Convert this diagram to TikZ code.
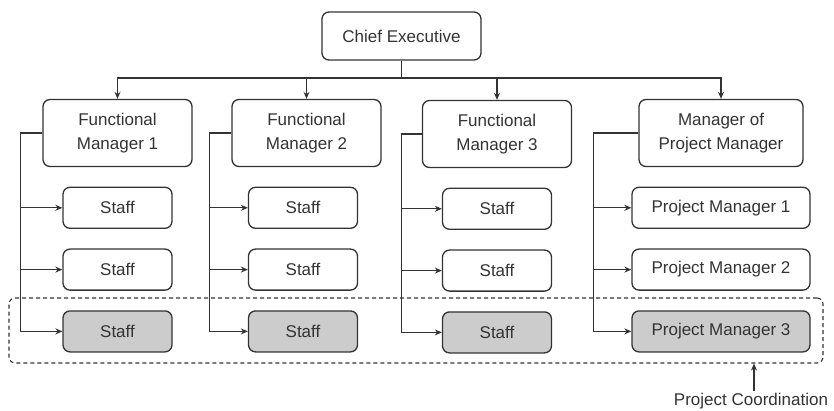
\documentclass[tikz,border=0pt]{standalone}
\usepackage{fontspec}
\setmainfont{Liberation Sans}
\usetikzlibrary{positioning, arrows.meta}

\begin{document}
\begin{tikzpicture}[x=1pt, y=-1pt, node distance=19.5pt,
    every node/.style={font=\fontsize{17}{24}\selectfont, text=black!80},
    box/.style={rectangle, draw=black!80, line width=1.3pt, rounded corners=7pt, align=center},
    head/.style={box, minimum width=149pt, minimum height=67pt},
    staff/.style={box, minimum width=109pt, minimum height=41pt},
    shared/.style={fill=gray!40},
    link/.style={draw=black!80, line width=1.2pt, -{Stealth[length=7pt, width=6pt]}},
    wire/.style={draw=black!80, line width=1.2pt}]
    \useasboundingbox (0,0) rectangle (834,411);

    % project coordination band
    \node[draw=black!80, line width=1.1pt, dash pattern=on 4pt off 3pt, rounded corners=6pt,
          minimum width=814pt, minimum height=65pt] (team) at (416,330.5) {};

    \node[box, minimum width=159pt, minimum height=48pt] (chief) at (401.5,36) {Chief Executive};
    \node[head] (fm1) at (117.5,133) {Functional\\Manager 1};
    \node[head] (fm2) at (306.5,133) {Functional\\Manager 2};
    \node[head] (fm3) at (497,134) {Functional\\Manager 3};
    \node[head, minimum width=164pt] (mpm) at (721,133) {Manager of\\Project Manager};

    \node[staff, below=of fm1] (s11) {Staff};
    \node[staff, below=of s11] (s12) {Staff};
    \node[staff, shared, below=of s12] (s13) {Staff};
    \node[staff, below=of fm2, xshift=-3.5pt] (s21) {Staff};
    \node[staff, below=of s21] (s22) {Staff};
    \node[staff, shared, below=of s22] (s23) {Staff};
    \node[staff, below=of fm3] (s31) {Staff};
    \node[staff, below=of s31] (s32) {Staff};
    \node[staff, shared, below=of s32] (s33) {Staff};
    \node[staff, minimum width=178pt, below=of mpm] (pm1) {Project Manager 1};
    \node[staff, minimum width=178pt, below=of pm1] (pm2) {Project Manager 2};
    \node[staff, minimum width=178pt, shared, below=of pm2] (pm3) {Project Manager 3};

    \node[inner sep=2pt] (pc) at (751,401) {Project Coordination};

    % chief executive down to the managers
    \coordinate (bus) at (401.5,78);
    \draw[wire] (chief) -- (bus);
    \draw[link] (bus) -| (fm1);
    \draw[link] (bus) -| (fm2);
    \draw[link] (bus) -| (fm3);
    \draw[link] (bus) -| (mpm);

    % each manager to his own people
    \coordinate[left=22pt of fm1.west] (b1);
    \coordinate[left=22pt of fm2.west] (b2);
    \coordinate[left=20pt of fm3.west] (b3);
    \coordinate[left=45pt of mpm.west] (b4);
    \draw[link] (fm1.west) -- (b1) |- (s13);
    \draw[link] (b1) |- (s11);
    \draw[link] (b1) |- (s12);
    \draw[link] (fm2.west) -- (b2) |- (s23);
    \draw[link] (b2) |- (s21);
    \draw[link] (b2) |- (s22);
    \draw[link] (fm3.west) -- (b3) |- (s33);
    \draw[link] (b3) |- (s31);
    \draw[link] (b3) |- (s32);
    \draw[link] (mpm.west) -- (b4) |- (pm3);
    \draw[link] (b4) |- (pm1);
    \draw[link] (b4) |- (pm2);

    \draw[link] ([xshift=3pt]pc.north) -- ([xshift=3pt]pc.north |- team.south);
\end{tikzpicture}
\end{document}
